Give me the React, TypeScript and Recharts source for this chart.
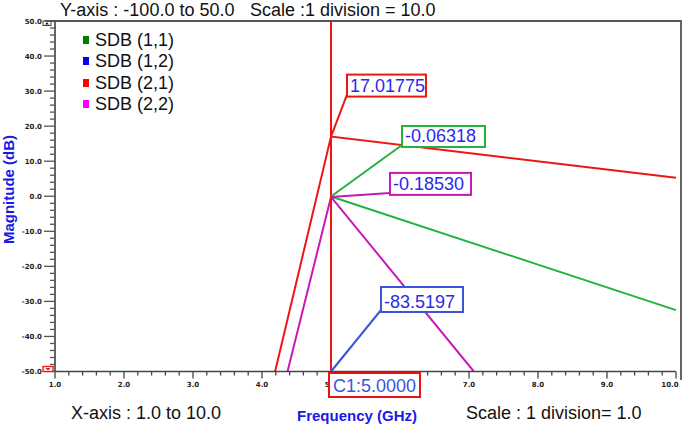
import { LineChart, Line, XAxis, YAxis, ReferenceLine, ReferenceDot } from "recharts";

// S-parameter traces, magnitude in dB vs frequency in GHz
const sdb11 = [
  { f: 5, db: -0.06318 },
  { f: 10, db: -32.5 },
];
const sdb12 = [{ f: 5, db: -83.5197 }];
const sdb21 = [
  { f: 4.19, db: -50 },
  { f: 5, db: 17.01775 },
  { f: 10, db: 5.3 },
];
const sdb22 = [
  { f: 4.37, db: -50 },
  { f: 5, db: -0.1853 },
  { f: 7.07, db: -50 },
];

const seriesNames = ["SDB (1,1)", "SDB (1,2)", "SDB (2,1)", "SDB (2,2)"];
const legendColors = ["#007f00", "#0000ff", "#ff0000", "#ff00ff"];

const cursorFreq = 5;
const cursorText = "C1:5.0000";
const markerValues = [-0.06318, -83.5197, 17.01775, -0.1853];
const markerTexts = ["-0.06318", "-83.5197", "17.01775", "-0.18530"];

const xMajor = [1, 2, 3, 4, 5, 6, 7, 8, 9, 10];
const yMajor = [-50, -40, -30, -20, -10, 0, 10, 20, 30, 40, 50];

const subdivide = (majors: number[], parts: number) => {
  const out: number[] = [];
  majors.forEach((m, i) => {
    out.push(m);
    if (i < majors.length - 1) {
      const step = (majors[i + 1] - m) / parts;
      for (let k = 1; k < parts; k++) out.push(Math.round((m + k * step) * 1000) / 1000);
    }
  });
  return out;
};
const xTicks = subdivide(xMajor, 5);
const yTicks = subdivide(yMajor, 5);

const LINE_COLORS = ["#22b33a", "#3a55dd", "#ee1515", "#c818b8"];
const TAG_TEXT = "#2a2ae6";
const TICK_FONT = { fontFamily: "DejaVu Sans", fontWeight: 700, fontSize: 7, fill: "#222" };

function YTick(props: any) {
  const { x, y, payload } = props;
  const v = payload.value;
  const major = yMajor.includes(v);
  return (
    <g>
      <line x1={x - (major ? 11 : 5)} x2={x} y1={y} y2={y} stroke="#555" strokeWidth={1.3} />
      {major && (
        <text x={x - 13} y={y + 2.5} textAnchor="end" {...TICK_FONT}>
          {v.toFixed(1)}
        </text>
      )}
      {v === 50 && (
        <g>
          <rect x={x - 12} y={y} width={8} height={4.5} fill="#fff" stroke="#444" strokeWidth={1} />
          <path d={`M${x - 10} ${y + 3.5} L${x - 6} ${y + 3.5} L${x - 8} ${y + 1.2} Z`} fill="#111" />
        </g>
      )}
      {v === -50 && (
        <g>
          <rect x={x - 12} y={y - 5} width={10} height={5} fill="#fff" stroke="#e11" strokeWidth={1.3} />
          <path d={`M${x - 9.5} ${y - 3.5} L${x - 4.5} ${y - 3.5} L${x - 7} ${y - 1} Z`} fill="#e11" />
        </g>
      )}
    </g>
  );
}

function XTick(props: any) {
  const { x, y, payload } = props;
  const v = payload.value;
  const major = xMajor.includes(v);
  return (
    <g>
      <line x1={x} x2={x} y1={y} y2={y + (major ? 7 : 4)} stroke="#444" strokeWidth={1.3} />
      {major && (
        <text x={v === 10 ? x - 6 : x} y={y + 15} textAnchor="middle" {...TICK_FONT}>
          {v.toFixed(1)}
        </text>
      )}
    </g>
  );
}

function Tag(props: any) {
  const { cx, cy, dx, dy, w, h, color, text } = props;
  const bx = cx + dx;
  const by = cy + dy;
  return (
    <g>
      <line x1={cx} y1={cy} x2={bx} y2={by + h - 2} stroke={color} strokeWidth={2} />
      <rect x={bx} y={by} width={w} height={h} fill="#fff" stroke={color} strokeWidth={2} />
      <text
        x={bx + 3}
        y={by + h - 4.5}
        fill={TAG_TEXT}
        fontFamily="Liberation Sans, Arial"
        fontSize={18}
      >
        {text}
      </text>
    </g>
  );
}

function CursorTag(props: any) {
  const { cx, cy } = props;
  return (
    <g>
      <rect x={cx - 2} y={cy + 1.5} width={91} height={24} fill="#fff" stroke="#e11" strokeWidth={2} />
      <text x={cx + 2} y={cy + 20} fill="#3a55dd" fontFamily="Liberation Sans, Arial" fontSize={18}>
        {cursorText}
      </text>
    </g>
  );
}

const textBase: React.CSSProperties = {
  position: "absolute",
  fontFamily: "Liberation Sans, Arial, sans-serif",
  fontSize: 18,
  lineHeight: "18px",
  color: "#111",
  whiteSpace: "nowrap",
};

const tagLayout = [
  { dx: 71, dy: -70.5, w: 83, h: 21, color: LINE_COLORS[0] },
  { dx: 50, dy: -84.5, w: 82, h: 25, color: LINE_COLORS[1] },
  { dx: 16, dy: -62, w: 79, h: 22, color: "#ee1515" },
  { dx: 59, dy: -24, w: 81, h: 22, color: LINE_COLORS[3] },
];

export default function App() {
  const traces = [sdb11, sdb12, sdb21, sdb22];
  return (
    <div style={{ position: "absolute", left: 0, top: 0, width: 685, height: 427, background: "#fff" }}>
      <LineChart width={685} height={427} margin={{ top: 21, right: 9, bottom: 26, left: 0 }}>
        <XAxis
          dataKey="f"
          type="number"
          domain={[1, 10]}
          ticks={xTicks}
          interval={0}
          tickSize={0}
          tickMargin={0}
          tickLine={false}
          tick={<XTick />}
          height={29.5}
          axisLine={{ stroke: "#444", strokeWidth: 1.5 }}
        />
        <YAxis
          type="number"
          domain={[-50, 50]}
          allowDataOverflow
          ticks={yTicks}
          interval={0}
          tickSize={0}
          tickMargin={0}
          tickLine={false}
          tick={<YTick />}
          width={55}
          axisLine={{ stroke: "#666", strokeWidth: 2 }}
        />
        {traces.map((d, i) => (
          <Line
            key={seriesNames[i]}
            data={d}
            dataKey="db"
            name={seriesNames[i]}
            type="linear"
            stroke={LINE_COLORS[i]}
            strokeWidth={2}
            dot={false}
            isAnimationActive={false}
          />
        ))}
        <ReferenceLine x={cursorFreq} stroke="#ee1515" strokeWidth={2} />
        {markerValues.map((v, i) => (
          <ReferenceDot
            key={markerTexts[i]}
            x={cursorFreq}
            y={Math.max(v, -50)}
            r={0}
            shape={(p: any) => <Tag {...p} {...tagLayout[i]} text={markerTexts[i]} />}
          />
        ))}
        <ReferenceDot
          x={cursorFreq}
          y={-50}
          r={0}
          zIndex={2500}
          shape={(p: any) => <CursorTag {...p} />}
        />
      </LineChart>

      {/* plot frame top/right */}
      <div
        style={{
          position: "absolute",
          left: 45,
          top: 20,
          width: 635,
          height: 358,
          borderTop: "2px solid #555",
          borderRight: "2px solid #666",
          pointerEvents: "none",
        }}
      />

      <div style={{ ...textBase, left: 60, top: 1 }}>Y-axis : -100.0 to 50.0</div>
      <div style={{ ...textBase, left: 250, top: 1 }}>Scale :1 division = 10.0</div>
      <div style={{ ...textBase, left: 71, top: 404 }}>X-axis : 1.0 to 10.0</div>
      <div style={{ ...textBase, left: 466, top: 404 }}>Scale : 1 division= 1.0</div>
      <div
        style={{
          ...textBase,
          left: 297,
          top: 408,
          fontSize: 15,
          lineHeight: "15px",
          fontWeight: 700,
          color: "#1a1ae6",
        }}
      >
        Frequency (GHz)
      </div>
      <div
        style={{
          ...textBase,
          left: 8 - 100,
          top: 189 - 7.5,
          width: 200,
          textAlign: "center",
          fontSize: 15,
          lineHeight: "15px",
          fontWeight: 700,
          color: "#1a1ae6",
          transform: "rotate(-90deg)",
        }}
      >
        Magnitude (dB)
      </div>

      {seriesNames.map((name, i) => (
        <div key={name}>
          <div
            style={{
              position: "absolute",
              left: 83,
              top: 36 + i * 21.3,
              width: 6,
              height: 8,
              background: legendColors[i],
            }}
          />
          <div style={{ ...textBase, left: 95, top: 31 + i * 21.3 }}>{name}</div>
        </div>
      ))}
    </div>
  );
}
